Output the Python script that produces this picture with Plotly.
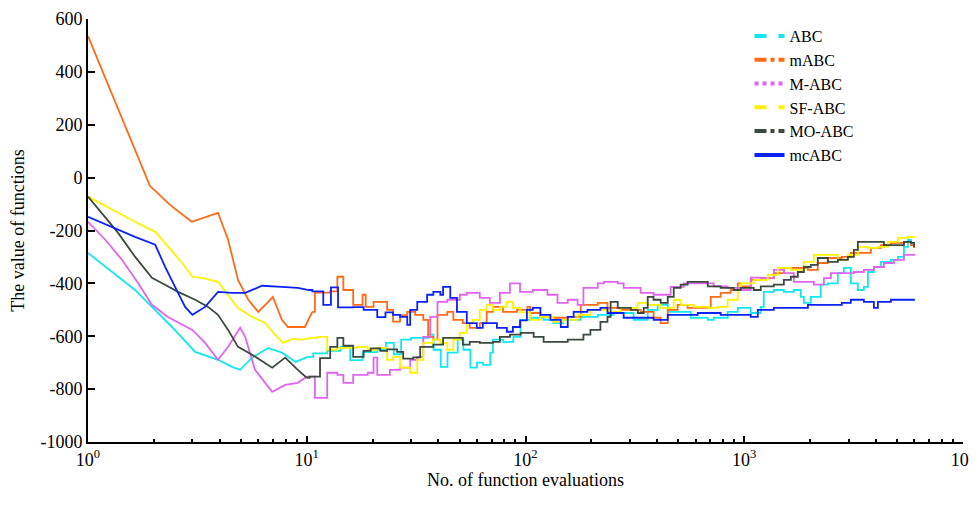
import plotly.graph_objects as go

# ---------------- data ----------------
abc_x = [1, 1.37, 1.64, 1.96, 2.42, 3.09, 3.93, 4.55, 4.96, 5.63, 6.66, 7.7, 8.9, 10.1, 10.7, 12.4,
         14.3, 15.8, 18, 21, 23, 25, 27, 30, 36, 38, 41, 44, 49, 52, 56, 60, 64, 69, 71, 79, 88,
         95, 105, 121, 134, 149, 179, 214, 253, 312, 362, 402, 447, 512, 569, 681, 725, 840, 934,
         1071, 1190, 1228, 1365, 1517, 1685, 1814, 1872, 2015, 2238, 2410, 2678, 2853, 3070, 3306,
         3523, 3675, 3915, 4217, 4680, 5041, 5370, 5600, 5781, 5970]
abc_y = [-285, -375, -425, -489, -565, -659, -689, -716, -727, -681, -644, -662, -697, -678, -665, -655,
         -640, -690, -660, -651, -625, -668, -613, -606, -594, -651, -716, -662, -613, -651, -719, -700, -708, -662, -613, -621, -602,
         -538, -530, -538, -550, -538, -527, -519, -512, -538, -500, -481, -508, -508, -530, -538, -530, -508, -493,
         -512, -489, -432, -425, -432, -425, -451, -474, -451, -405, -400, -361, -341, -400, -425,
         -413, -357, -338, -319, -311, -300, -262, -236, -247, -255]

mabc_x = [1, 1.30, 1.61, 1.92, 2.03, 2.37, 2.98, 3.43, 3.93, 4.37, 4.85, 5.40, 6.0, 6.60, 7.0, 7.7, 8.2,
          9.8, 10.6, 10.9, 12.8, 13.8, 14.7, 16.3, 18, 18.6, 20.2, 23.3, 24.8, 26.7, 28.8, 31.3, 34.1,
          35.9, 37.9, 39.6, 43.9, 46.8, 51.7, 55.6, 61.8, 66.5, 70.9, 78.9, 91.4, 102, 105, 117, 134,
          156, 179, 214, 237, 272, 336, 385, 415, 447, 496, 551, 633, 703, 780, 867, 934, 964, 1071,
          1190, 1365, 1517, 1757, 1954, 2168, 2410, 2793, 3070, 3412, 3793, 4217, 4680, 5370, 5781, 5970]
mabc_y = [535, 307, 118, -32, -50, -103, -167, -150, -133, -235, -387, -462, -508, -474, -451, -538, -565,
          -565, -508, -435, -430, -375, -425, -481, -443, -489, -470, -500, -545, -520, -508, -519, -538,
          -602, -613, -519, -508, -538, -550, -568, -550, -508, -489, -508, -500, -489, -512, -527, -530,
          -527, -481, -474, -493, -500, -508, -530, -550, -500, -481, -493, -493, -451, -436, -425, -400, -411, -387,
          -380, -361, -341, -341, -349, -323, -304, -300, -285, -285, -266, -255, -247, -243, -255, -266]

mabc2_x = [1, 1.20, 1.43, 1.69, 1.96, 2.32, 3.0, 3.43, 3.93, 4.37, 4.96, 5.23, 5.80, 6.95, 7.97, 9.1,
           10.0, 10.9, 12.4, 13.8, 14.7, 16.3, 19, 20.2, 21, 24, 26.7, 29.7, 32, 34.1, 36.7, 39.6, 43.9,
           50.1, 53.9, 61.8, 68.7, 76.4, 84.9, 94.4, 108, 126, 140, 156, 173, 184, 214, 228, 264, 281,
           336, 385, 461, 529, 613, 725, 840, 964, 1071, 1190, 1365, 1517, 1685, 2080, 2312, 2489, 3170,
           3523, 3915, 4350, 4832, 5370, 5970]
mabc2_y = [-167, -235, -311, -398, -481, -527, -576, -625, -689, -640, -568, -602, -727, -810, -784, -776,
           -753, -833, -738, -746, -776, -746, -738, -681, -746, -727, -719, -689, -678, -602, -527, -470, -462,
           -443, -436, -455, -474, -436, -400, -432, -425, -443, -474, -462, -481, -417, -400, -394, -400, -417,
           -436, -443, -413, -400, -400, -411, -417, -425, -378, -380, -349, -361, -394, -405, -380, -361, -357,
           -349, -338, -323, -311, -292, -288]

sfabc_x = [1, 1.37, 1.64, 2.03, 2.32, 2.69, 3.0, 3.32, 3.93, 4.37, 4.85, 5.63, 6.45, 7.16, 7.8, 8.6,
           9.5, 10.6, 11.2, 12.4, 13.8, 15.3, 17, 19, 21, 23.3, 24.8, 26.7, 29.7, 32, 34.1, 37.9, 40.8,
           43.9, 46.8, 50.1, 53.9, 57.4, 61.8, 66.5, 70.9, 76.4, 82.2, 87.6, 94.4, 105, 117, 134, 149,
           173, 198, 237, 272, 326, 362, 415, 476, 512, 588, 681, 756, 840, 934, 964, 1105, 1282, 1423,
           1633, 1872, 2080, 2410, 2678, 2977, 3306, 3675, 4083, 4539, 5041, 5600, 5970]
sfabc_y = [-72, -133, -167, -205, -262, -322, -375, -379, -394, -443, -493, -527, -550, -594, -625, -610,
           -613, -606, -602, -651, -644, -644, -640, -651, -644, -689, -678, -719, -738, -689, -625, -613, -625,
           -651, -613, -587, -550, -538, -500, -481, -500, -489, -470, -493, -510, -538, -527, -546, -538,
           -519, -500, -508, -493, -474, -481, -493, -462, -481, -489, -493, -489, -462, -425, -400, -387, -368, -341,
           -349, -319, -292, -292, -311, -292, -262, -266, -262, -243, -228, -224, -228]

moabc_x = [1, 1.37, 1.64, 1.96, 2.25, 2.58, 3.09, 3.54, 3.93, 4.37, 4.85, 5.63, 6.95, 7.97, 9.1, 10.0,
           10.3, 11.5, 12.8, 13.8, 14.7, 16.3, 18.2, 19.6, 21.7, 23.3, 25.9, 27.6, 30.7, 33, 37.9, 42,
           46.8, 51.7, 55.6, 61.8, 70.9, 76.4, 84.9, 95, 109, 121, 145, 156, 184, 198, 220, 237, 245,
           264, 303, 326, 347, 362, 385, 415, 447, 476, 512, 551, 613, 681, 780, 895, 964, 1105, 1190,
           1365, 1517, 1633, 1757, 1872, 2015, 2168, 2410, 2678, 2977, 3170, 3306, 4217, 4350, 5041,
           5370, 5781, 5970]
moabc_y = [-72, -208, -299, -379, -405, -432, -462, -489, -519, -576, -640, -670, -719, -681, -727, -757,
           -753, -683, -640, -606, -636, -678, -655, -646, -655, -650, -659, -685, -680, -640, -632, -606,
           -606, -632, -621, -625, -621, -602, -594, -587, -602, -621, -621, -613, -594, -576, -546, -527, -470,
           -493, -500, -512, -493, -451, -462, -474, -451, -417, -405, -394, -394, -411, -417, -425, -417, -425, -411,
           -405, -387, -375, -357, -338, -330, -304, -319, -311, -300, -273, -243, -243, -255, -255,
           -243, -247, -262]

mcabc_x = [1, 1.37, 1.64, 2.03, 2.25, 2.50, 2.78, 3.0, 3.43, 3.93, 4.55, 5.23, 6.25, 7.7, 9.1, 10.1,
           10.6, 11.9, 12.9, 13.9, 16.3, 18.2, 21, 22.9, 24.8, 26.7, 28.8, 29.7, 32, 35.5, 37.9, 40.8,
           42, 45.3, 48.6, 53.9, 59.9, 63.8, 74, 82.2, 87.6, 94.4, 101.5, 108, 117, 130, 145, 156, 166,
           192, 220, 237, 264, 281, 336, 385, 447, 512, 613, 780, 964, 1071, 1153, 1365, 1814, 1954,
           2410, 2793, 3070, 3523, 3915, 4083, 4680, 5970]
mcabc_y = [-148, -197, -224, -254, -337, -413, -489, -519, -489, -432, -436, -436, -409, -413, -417, -425,
           -430, -481, -415, -491, -490, -500, -528, -510, -519, -527, -557, -500, -470, -443, -432, -443,
           -413, -455, -508, -550, -568, -550, -568, -583, -565, -540, -500, -493, -519, -538, -565, -527, -508,
           -500, -493, -512, -512, -530, -530, -538, -519, -519, -512, -519, -519, -527, -500, -493, -493, -481,
           -481, -474, -462, -470, -493, -470, -462, -466]

series_names = ["ABC", "mABC", "M-ABC", "SF-ABC", "MO-ABC", "mcABC"]
series_x = [abc_x, mabc_x, mabc2_x, sfabc_x, moabc_x, mcabc_x]
series_y = [abc_y, mabc_y, mabc2_y, sfabc_y, moabc_y, mcabc_y]
series_colors = ["#12E6F0", "#FF6A14", "#E064F0", "#FFF200", "#3A4A3C", "#0A22F5"]
series_dash = ["dash", "dashdot", "dot", "dash", "dashdot", "solid"]
STEP_FROM = 10  # beyond this many evaluations the best-so-far curves are drawn as steps

y_tick_vals = [-1000, -800, -600, -400, -200, 0, 200, 400, 600]
y_tick_text = ["-1000", "-800", "-600", "-400", "-200", "0", "200", "400", "600"]
x_tick_vals = [1, 10, 100, 1000, 10000]
x_tick_text = ["10<sup>0</sup>", "10<sup>1</sup>", "10<sup>2</sup>", "10<sup>3</sup>", "10<sup>4</sup>"]

FONT = "Liberation Serif, Times New Roman, serif"

fig = go.Figure()
for name, xs, ys, col in zip(series_names, series_x, series_y, series_colors):
    k = next(i for i, v in enumerate(xs) if v >= STEP_FROM)
    fig.add_trace(go.Scatter(x=xs[:k + 1], y=ys[:k + 1], mode="lines", showlegend=False,
                             line=dict(color=col, width=1.8), hoverinfo="skip"))
    fig.add_trace(go.Scatter(x=xs[k:], y=ys[k:], mode="lines", showlegend=False,
                             line=dict(color=col, width=1.8, shape="hv"), hoverinfo="skip"))
# legend entries (line style samples)
for name, col, dash in zip(series_names, series_colors, series_dash):
    fig.add_trace(go.Scatter(x=[None], y=[None], mode="lines", name=name,
                             line=dict(color=col, width=4, dash=dash)))

# the page body adds an 8 px margin, so the figure is 8 px smaller than the window
fig.update_layout(
    width=969, height=498,
    margin=dict(l=80, r=14, t=11, b=64),
    paper_bgcolor="white", plot_bgcolor="white",
    font=dict(family=FONT, size=18, color="black"),
    showlegend=True,
    legend=dict(x=0.756, y=1.0, xanchor="left", yanchor="top",
                bgcolor="rgba(0,0,0,0)", borderwidth=0,
                font=dict(family=FONT, size=16, color="black"),
                itemwidth=30, tracegroupgap=0),
    xaxis=dict(type="log", range=[0, 4], showgrid=False, zeroline=False, automargin=False,
               showline=True, linecolor="black", linewidth=2,
               tickmode="array", tickvals=x_tick_vals, ticktext=x_tick_text,
               ticklabeloverflow="allow",
               ticks="inside", ticklen=6, tickwidth=2, tickcolor="black",
               minor=dict(ticks="inside", ticklen=3, tickwidth=2, tickcolor="black",
                          dtick="D1", showgrid=False),
               tickfont=dict(family=FONT, size=18),
               title=dict(text="No. of function evaluations", standoff=4,
                          font=dict(family=FONT, size=18))),
    yaxis=dict(range=[-1000, 600], showgrid=False, zeroline=False, automargin=False,
               showline=True, linecolor="black", linewidth=2,
               tickmode="array", tickvals=y_tick_vals, ticktext=y_tick_text,
               ticks="inside", ticklen=7, tickwidth=2, tickcolor="black",
               tickfont=dict(family=FONT, size=18),
               title=dict(text="The value of functions", standoff=12,
                          font=dict(family=FONT, size=18))),
)

fig.write_html("out.html")
